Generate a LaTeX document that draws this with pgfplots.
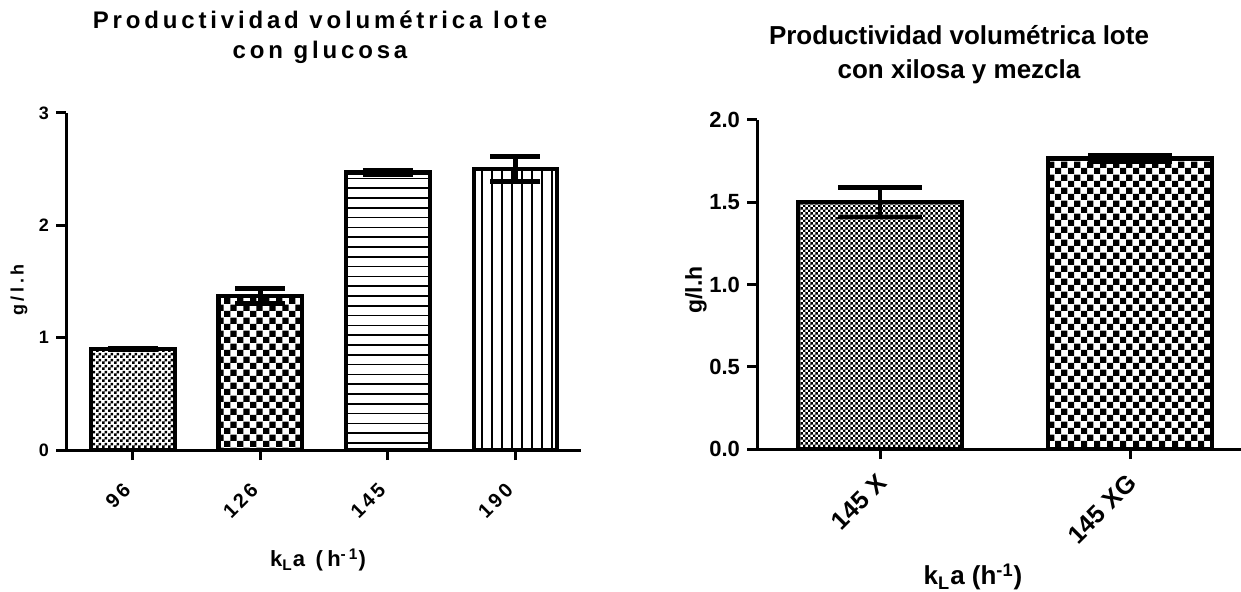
\documentclass[border=0pt]{standalone}
\usepackage{fontspec}
\setmainfont{Liberation Sans}
\newfontfamily\spc[LetterSpace=16]{Liberation Sans}
\newfontfamily\spcb[LetterSpace=20]{Liberation Sans}
\newfontfamily\spct[LetterSpace=15]{Liberation Sans}
\usepackage{pgfplots}
\pgfplotsset{compat=1.18}
\usetikzlibrary{patterns}

\pgfdeclarepatternformonly{checkfineL}{\pgfpointorigin}{\pgfpoint{3pt}{3pt}}{\pgfpoint{3pt}{3pt}}{%
  \pgfpathrectangle{\pgfpointorigin}{\pgfpoint{1.5pt}{1.5pt}}%
  \pgfpathrectangle{\pgfpoint{1.5pt}{1.5pt}}{\pgfpoint{1.5pt}{1.5pt}}%
  \pgfusepath{fill}}
\pgfdeclarepatternformonly{checkfineR}{\pgfpointorigin}{\pgfpoint{2.7pt}{2.7pt}}{\pgfpoint{2.7pt}{2.7pt}}{%
  \pgfpathrectangle{\pgfpointorigin}{\pgfpoint{1.35pt}{1.35pt}}%
  \pgfpathrectangle{\pgfpoint{1.35pt}{1.35pt}}{\pgfpoint{1.35pt}{1.35pt}}%
  \pgfusepath{fill}}
\pgfdeclarepatternformonly{checkbig}{\pgfpointorigin}{\pgfpoint{6.6pt}{6.6pt}}{\pgfpoint{6.6pt}{6.6pt}}{%
  \pgfpathrectangle{\pgfpointorigin}{\pgfpoint{3.3pt}{3.3pt}}%
  \pgfpathrectangle{\pgfpoint{3.3pt}{3.3pt}}{\pgfpoint{3.3pt}{3.3pt}}%
  \pgfusepath{fill}}
\pgfdeclarepatternformonly{hlinesP}{\pgfpoint{-1pt}{-1pt}}{\pgfpoint{6pt}{6pt}}{\pgfpoint{4.9pt}{4.9pt}}{%
  \pgfsetlinewidth{0.75pt}%
  \pgfpathmoveto{\pgfpoint{-0.5pt}{1pt}}\pgfpathlineto{\pgfpoint{5.4pt}{1pt}}%
  \pgfusepath{stroke}}
\pgfdeclarepatternformonly{vlinesP}{\pgfpoint{-1pt}{-1pt}}{\pgfpoint{6pt}{6pt}}{\pgfpoint{5pt}{5pt}}{%
  \pgfsetlinewidth{0.75pt}%
  \pgfpathmoveto{\pgfpoint{1pt}{-0.5pt}}\pgfpathlineto{\pgfpoint{1pt}{5.5pt}}%
  \pgfusepath{stroke}}

\pgfplotsset{
  prismbar/.style 2 args={ybar, bar shift=0pt, bar width=#2, draw=black, line width=2.2pt,
    /pgfplots/error bars/y dir=both, /pgfplots/error bars/y explicit,
    /pgfplots/error bars/error mark=|,
    /pgfplots/error bars/error bar style={line width=2.4pt, black, solid},
    /pgfplots/error bars/error mark options={line width=2.4pt, black, mark size=#1}},
}

\begin{document}
\begin{tikzpicture}
\useasboundingbox (0,0) rectangle (620.5pt,-296pt);

% titles
\node[font=\spc\bfseries\fontsize{12}{15}\selectfont, align=center] at (160pt,-18.5pt)
  {Productividad volumétrica lote\\con glucosa};
\node[font=\bfseries\fontsize{13}{17}\selectfont, align=center] at (479.5pt,-27.5pt)
  {Productividad volumétrica lote\\con xilosa y mezcla};

% axis labels
\node[font=\spcb\bfseries\fontsize{9}{11}\selectfont, rotate=90] at (9.5pt,-145pt) {g/l.h};
\node[font=\spcb\bfseries\fontsize{11}{13}\selectfont] at (159pt,-280pt)
  {k\textsubscript{L}a (h\textsuperscript{-1})};
\node[font=\bfseries\fontsize{11.5}{13}\selectfont, rotate=90] at (348pt,-145pt) {g/l.h};
\node[font=\bfseries\fontsize{13}{15}\selectfont] at (486.5pt,-288.5pt)
  {k\textsubscript{L}a (h\textsuperscript{-1})};

% left panel
\begin{axis}[at={(33pt,-225pt)}, anchor=south west, scale only axis,
  width=257.5pt, height=168.5pt,
  xmin=-0.525, xmax=3.514, ymin=0, ymax=3,
  axis x line=bottom, axis y line=left,
  axis line style={line width=1.5pt, -},
  every outer x axis line/.append style={-},
  every outer y axis line/.append style={-},
  xtick={0,1,2,3}, xticklabels={96,126,145,190},
  ytick={0,1,2,3},
  tick style={line width=1.5pt, black},
  major tick length=5pt, tick align=outside,
  /pgf/number format/assume math mode=true,
  xticklabel style={font=\spct\bfseries\fontsize{10}{12}\selectfont, xshift=-0.5pt, yshift=-11pt, rotate=45, anchor=east},
  yticklabel style={font=\bfseries\fontsize{9}{10}\selectfont},
  clip=false]
\addplot[pattern=checkfineL, prismbar={12.5pt}{0.655}] coordinates {(0,0.90) +- (0,0.005)};
\addplot[pattern=checkbig, prismbar={12.5pt}{0.655}] coordinates {(1,1.37) +- (0,0.065)};
\addplot[pattern=hlinesP, prismbar={12.5pt}{0.655}] coordinates {(2,2.47) +- (0,0.015)};
\addplot[pattern=vlinesP, prismbar={12.5pt}{0.655}] coordinates {(3,2.50) +- (0,0.11)};
\end{axis}

% right panel
\begin{axis}[at={(378.5pt,-224.5pt)}, anchor=south west, scale only axis,
  width=242pt, height=164.5pt,
  xmin=-0.492, xmax=1.444, ymin=0, ymax=2,
  axis x line=bottom, axis y line=left,
  axis line style={line width=1.5pt, -},
  every outer x axis line/.append style={-},
  every outer y axis line/.append style={-},
  xtick={0,1}, xticklabels={145 X,145 XG},
  ytick={0,0.5,1,1.5,2},
  tick style={line width=1.5pt, black},
  major tick length=5pt, tick align=outside,
  /pgf/number format/assume math mode=true,
  yticklabel style={font=\bfseries\fontsize{11}{13}\selectfont,
    /pgf/number format/.cd, fixed, fixed zerofill, precision=1},
  xticklabel style={font=\bfseries\fontsize{12.5}{15}\selectfont, xshift=3.5pt, yshift=-7.5pt, rotate=45, anchor=east},
  clip=false]
\addplot[pattern=checkfineR, prismbar={21pt}{0.654}] coordinates {(0,1.50) +- (0,0.09)};
\addplot[pattern=checkbig, prismbar={21pt}{0.654}] coordinates {(1,1.765) +- (0,0.02)};
\end{axis}
\end{tikzpicture}
\end{document}
